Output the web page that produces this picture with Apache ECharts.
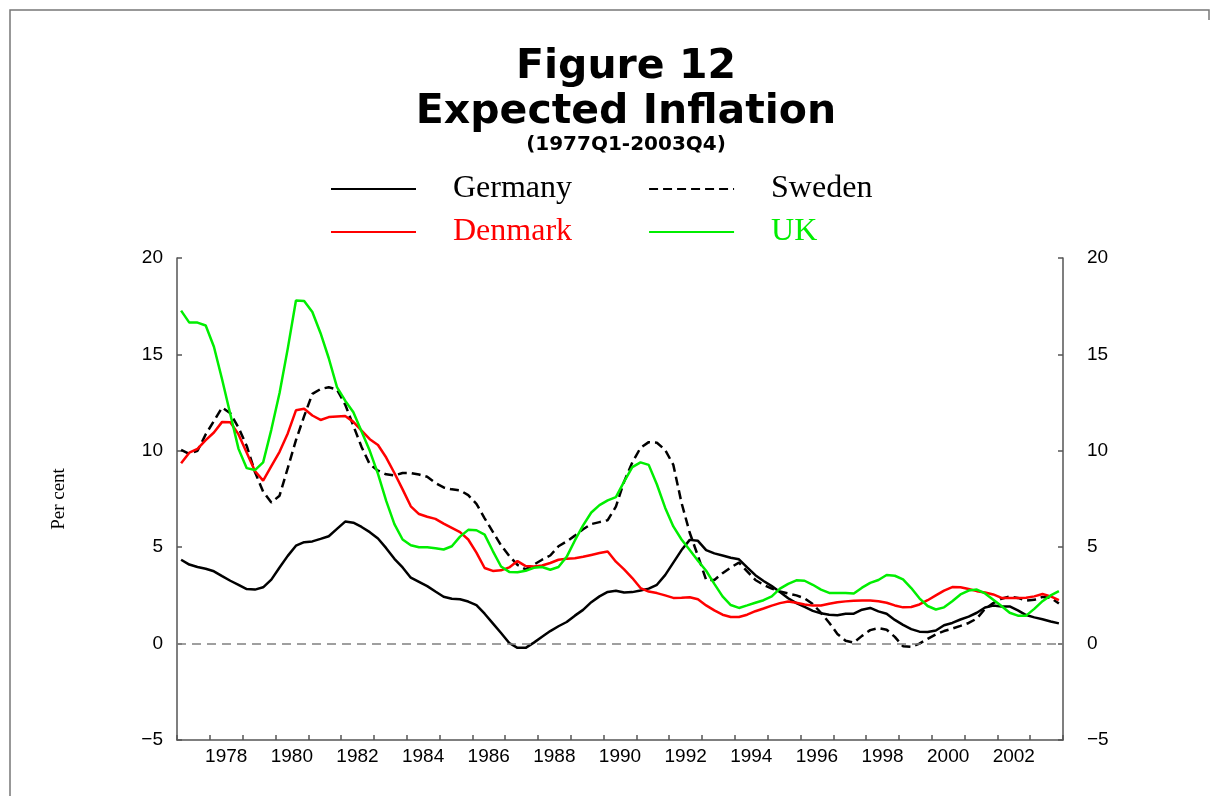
<!DOCTYPE html>
<html>
<head>
<meta charset="utf-8">
<title>Figure 12 Expected Inflation</title>
<script src="https://cdn.jsdelivr.net/npm/echarts@6/dist/echarts.min.js"></script>
<style>
  html, body { margin: 0; padding: 0; background: #fff; }
  #chart { width: 1218px; height: 796px; }
</style>
</head>
<body>
<div id="chart"></div>
<script>
  // years on the axis, 1977..2003, four quarters each
  var years = [];
  for (var y = 1977; y <= 2003; y++) years.push(String(y));
  var quarters = [];
  years.forEach(function (yr) {
    for (var q = 1; q <= 4; q++) quarters.push(yr + 'Q' + q);
  });

  var yTicks = [-5, 0, 5, 10, 15, 20];

  // expected inflation, per cent, 1977Q1-2003Q4
  var germany = [4.35,4.1,3.97,3.88, 3.75,3.5,3.26,3.05, 2.83,2.8,2.92,3.32, 3.95,4.55,5.08,5.26,
    5.3,5.43,5.57,5.95, 6.33,6.27,6.05,5.78, 5.45,4.95,4.4,3.95, 3.42,3.2,2.98,2.7,
    2.43,2.33,2.3,2.18, 2.0,1.55,1.05,0.55, 0.03,-0.22,-0.22,0.05, 0.35,0.65,0.9,1.12,
    1.45,1.75,2.15,2.45, 2.68,2.74,2.65,2.67, 2.75,2.85,3.05,3.55, 4.2,4.85,5.38,5.33,
    4.85,4.68,4.57,4.45, 4.37,3.95,3.55,3.25, 2.98,2.68,2.35,2.1, 1.9,1.7,1.57,1.5,
    1.47,1.55,1.55,1.76, 1.85,1.67,1.55,1.23, 0.97,0.75,0.62,0.6, 0.68,0.95,1.07,1.25,
    1.4,1.6,1.87,1.97, 1.93,1.93,1.72,1.48, 1.36,1.26,1.15,1.05];

  var sweden = [10.05,9.84,10.0,10.85, 11.55,12.25,11.95,11.2, 10.25,8.9,7.88,7.32, 7.67,9.1,10.55,11.8,
    12.95,13.2,13.3,13.18, 12.4,11.3,10.2,9.3, 8.97,8.78,8.72,8.85, 8.85,8.77,8.65,8.33,
    8.1,8.0,7.95,7.7, 7.25,6.5,5.8,5.1, 4.55,4.08,3.85,4.1, 4.35,4.57,5.05,5.3,
    5.6,5.93,6.2,6.3, 6.4,7.1,8.4,9.4, 10.15,10.45,10.42,10.05, 9.27,7.3,5.75,4.55,
    3.3,3.3,3.65,3.95, 4.2,3.75,3.3,3.05, 2.85,2.7,2.6,2.5, 2.35,2.05,1.6,1.08,
    0.5,0.15,0.05,0.4, 0.7,0.8,0.72,0.35, -0.14,-0.17,0.0,0.25, 0.48,0.65,0.78,0.92,
    1.07,1.3,1.8,2.1, 2.33,2.44,2.37,2.23, 2.27,2.42,2.37,2.08];

  var denmark = [9.35,9.9,10.1,10.55, 10.95,11.5,11.48,10.85, 9.9,8.95,8.45,9.2, 9.95,10.9,12.1,12.18,
    11.83,11.6,11.75,11.78, 11.8,11.5,11.05,10.6, 10.3,9.65,8.85,8.0, 7.12,6.72,6.58,6.47,
    6.22,6.0,5.78,5.4, 4.72,3.92,3.77,3.8, 3.95,4.28,4.02,4.0, 4.05,4.18,4.35,4.4,
    4.43,4.5,4.6,4.7, 4.78,4.25,3.85,3.4, 2.88,2.7,2.62,2.5, 2.37,2.38,2.4,2.3,
    1.98,1.72,1.5,1.38, 1.38,1.5,1.68,1.82, 1.97,2.1,2.18,2.12, 2.03,1.97,1.98,2.07,
    2.15,2.19,2.22,2.24, 2.23,2.2,2.12,1.98, 1.88,1.9,2.03,2.25, 2.5,2.75,2.93,2.92,
    2.83,2.72,2.65,2.55, 2.37,2.37,2.37,2.38, 2.45,2.57,2.45,2.25];

  var uk = [17.27,16.65,16.65,16.5, 15.4,13.7,11.9,10.1, 9.1,9.0,9.4,11.1, 13.0,15.3,17.8,17.77,
    17.2,16.1,14.8,13.3, 12.6,12.0,11.0,10.0, 8.8,7.4,6.2,5.4, 5.1,5.0,5.0,4.95,
    4.88,5.05,5.55,5.9, 5.88,5.65,4.8,4.0, 3.72,3.7,3.78,3.93, 3.97,3.83,3.97,4.5,
    5.35,6.13,6.8,7.18, 7.43,7.6,8.4,9.15, 9.4,9.27,8.25,7.05, 6.08,5.4,4.85,4.3,
    3.78,3.1,2.45,2.0, 1.85,1.98,2.12,2.25, 2.45,2.85,3.1,3.28, 3.26,3.05,2.8,2.63,
    2.63,2.63,2.6,2.9, 3.15,3.3,3.56,3.52, 3.33,2.88,2.35,1.95, 1.77,1.88,2.2,2.55,
    2.75,2.8,2.6,2.28, 1.95,1.6,1.45,1.45, 1.8,2.2,2.5,2.72];

  var AXIS = '#555';
  var SANS = 'Liberation Sans';
  var SERIF = 'Liberation Serif';

  function minus(v) { return String(v).replace('-', '\u2212'); }

  function yAxis(pos, margin) {
    return {
      type: 'value', position: pos,
      min: yTicks[0], max: yTicks[yTicks.length - 1], interval: 5,
      axisLine: { show: true, lineStyle: { color: AXIS, width: 1.5 } },
      axisTick: { show: true, inside: true, length: 5, lineStyle: { color: AXIS, width: 1.5 } },
      axisLabel: { margin: margin, color: '#000', fontFamily: SANS, fontSize: 19, formatter: minus },
      splitLine: { show: false }
    };
  }

  function line(name, data, color, type) {
    return {
      name: name, type: 'line', data: data,
      xAxisIndex: 0, yAxisIndex: 0,
      symbol: 'none', smooth: false,
      lineStyle: { color: color, width: 2.5, type: type || 'solid' },
      itemStyle: { color: color }
    };
  }

  var legendText = { fontFamily: SERIF, fontSize: 32, color: '#000', padding: [0, 0, 0, 32] };

  var chart = echarts.init(document.getElementById('chart'));
  var left = yAxis('left', 14);
  left.name = 'Per cent';
  left.nameLocation = 'middle';
  left.nameRotate = 90;
  left.nameGap = 108;
  left.nameTextStyle = { fontFamily: SERIF, fontSize: 19, color: '#000' };

  var germanySeries = line('Germany', germany, '#000000');
  // dashed zero line
  germanySeries.markLine = {
    silent: true, symbol: ['none', 'none'], label: { show: false },
    lineStyle: { color: '#808080', type: [9, 6], width: 1.5 },
    data: [{ yAxis: 0 }]
  };

  var legendBase = {
    left: 330, itemWidth: 85, itemHeight: 14, itemGap: 76, padding: 0,
    selectedMode: false, textStyle: legendText,
    itemStyle: { opacity: 0 }
  };

  chart.setOption({
    animation: false,
    backgroundColor: '#fff',
    title: {
      text: 'Figure 12\nExpected Inflation',
      subtext: '(1977Q1-2003Q4)',
      left: 621, top: 40, textAlign: 'center', itemGap: 0,
      textStyle: { fontFamily: 'DejaVu Sans', fontWeight: 'bold', fontSize: 41, lineHeight: 45, color: '#000' },
      subtextStyle: { fontFamily: 'DejaVu Sans', fontWeight: 'bold', fontSize: 20, color: '#000' }
    },
    legend: [
      Object.assign({}, legendBase, { top: 173, data: ['Germany', 'Sweden'] }),
      Object.assign({}, legendBase, {
        top: 216,
        data: [
          { name: 'Denmark', textStyle: { color: '#ff0000' } },
          { name: 'UK', textStyle: { color: '#00ee00' } }
        ]
      })
    ],
    grid: { left: 177, right: 155, top: 258, bottom: 56 },
    xAxis: [
      {
        // quarters: carries the data and the year ticks
        type: 'category', data: quarters, boundaryGap: true,
        axisLine: { show: true, onZero: false, lineStyle: { color: AXIS, width: 1.5 } },
        axisTick: {
          show: true, inside: true, length: 5,
          interval: function (i) { return i % 4 === 0; },
          lineStyle: { color: AXIS, width: 1.5 }
        },
        axisLabel: { show: false }
      },
      {
        // years: labels centred in each year
        type: 'category', data: years, boundaryGap: true, position: 'bottom',
        axisLine: { show: false, onZero: false }, axisTick: { show: false },
        axisLabel: {
          margin: 7, color: '#000', fontFamily: SANS, fontSize: 19,
          interval: function (i, v) { return Number(v) % 2 === 0; }
        }
      }
    ],
    yAxis: [left, yAxis('right', 24)],
    series: [
      germanySeries,
      line('Sweden', sweden, '#000000', [9, 5]),
      line('Denmark', denmark, '#ff0000'),
      line('UK', uk, '#00ee00')
    ],
    graphic: [{
      type: 'polyline', silent: true,
      shape: { points: [[1209, 20], [1209, 10], [10, 10], [10, 796]] },
      style: { stroke: '#777', lineWidth: 1.5, fill: null }
    }]
  });
</script>
</body>
</html>
